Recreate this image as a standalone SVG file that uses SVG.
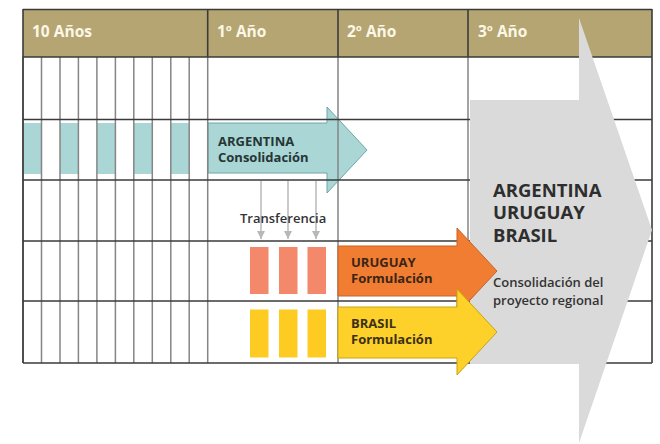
<svg xmlns="http://www.w3.org/2000/svg" width="660" height="444" viewBox="0 0 660 444">
<defs>
<style>
.hdr{fill:#b4a572}
.htxt{font-family:"Open Sans","Noto Sans",sans-serif;font-weight:700;font-size:15.5px;fill:#fcf7e6}
.vl{stroke:#858585;stroke-width:1.5;fill:none}
.hl{stroke:#3a3a3a;stroke-width:1.6;fill:none}
.dk{stroke:#3a3a3a;stroke-width:1.6;fill:none}
.teal{fill:#aad6d6}
.lbl{font-family:"Open Sans","Noto Sans",sans-serif;font-weight:700;font-size:13px}
.sm{font-family:"Open Sans","Noto Sans",sans-serif;font-weight:600;font-size:13px;fill:#333}
.big{font-family:"Open Sans","Noto Sans",sans-serif;font-weight:700;font-size:18.5px;fill:#2e2e2e}
.tr{stroke:#b8b8b8;stroke-width:1.5;fill:none}
</style>
<marker id="ah" viewBox="0 0 10 10" refX="10" refY="5" markerWidth="8" markerHeight="9" markerUnits="userSpaceOnUse" orient="auto">
<path d="M0,0 L10,5 L0,10 Z" fill="#b8b8b8"/>
</marker>
</defs>
<rect width="660" height="444" fill="#ffffff"/>

<g id="header">
<rect class="hdr" x="23" y="9" width="629" height="48"/>
<line class="dk" x1="23" y1="9.5" x2="652" y2="9.5" stroke-width="2"/>
<text class="htxt" x="32" y="37">10 Años</text>
<text class="htxt" x="217" y="37">1º Año</text>
<text class="htxt" x="347" y="37">2º Año</text>
<text class="htxt" x="478" y="37">3º Año</text>
</g>

<g id="argentina-past">
<rect class="teal" x="23" y="123" width="18.5" height="51"/>
<rect class="teal" x="60" y="123" width="18.4" height="51"/>
<rect class="teal" x="96.9" y="123" width="18.5" height="51"/>
<rect class="teal" x="133.8" y="123" width="18.5" height="51"/>
<rect class="teal" x="170.8" y="123" width="18.4" height="51"/>
</g>

<g id="argentina">
<path d="M208,123 H327 V107 L367,150 L327,193 V173 H208 Z" fill="#aad6d6" stroke="#6fa6a6" stroke-width="1"/>
</g>

<g id="grid">
<g class="vl">
<line x1="23" y1="57" x2="23" y2="363"/>
<line x1="41.5" y1="57" x2="41.5" y2="363"/>
<line x1="60" y1="57" x2="60" y2="363"/>
<line x1="78.4" y1="57" x2="78.4" y2="363"/>
<line x1="96.9" y1="57" x2="96.9" y2="363"/>
<line x1="115.4" y1="57" x2="115.4" y2="363"/>
<line x1="133.8" y1="57" x2="133.8" y2="363"/>
<line x1="152.3" y1="57" x2="152.3" y2="363"/>
<line x1="170.8" y1="57" x2="170.8" y2="363"/>
<line x1="189.2" y1="57" x2="189.2" y2="363"/>
<line x1="207.7" y1="57" x2="207.7" y2="363"/>
<line x1="338" y1="57" x2="338" y2="363"/>
<line x1="468" y1="57" x2="468" y2="363"/>
</g>
<g class="dk">
<line x1="23" y1="9" x2="23" y2="363"/>
<line x1="652" y1="9" x2="652" y2="363"/>
<line x1="207.7" y1="9" x2="207.7" y2="57"/>
<line x1="338" y1="9" x2="338" y2="57"/>
<line x1="468" y1="9" x2="468" y2="57"/>
</g>
<g class="hl">
<line x1="23" y1="57" x2="652" y2="57"/>
<line x1="23" y1="119.5" x2="652" y2="119.5"/>
<line x1="23" y1="180" x2="652" y2="180"/>
<line x1="23" y1="241" x2="652" y2="241"/>
<line x1="23" y1="301" x2="652" y2="301"/>
<line x1="23" y1="363" x2="652" y2="363"/>
</g>
</g>

<g id="argentina-label">
<text class="lbl" fill="#263535" x="218" y="145.5">ARGENTINA</text>
<text class="lbl" fill="#263535" x="218" y="161.5">Consolidación</text>
</g>

<g id="regional">
<path d="M470,100 H579 V18 L652,230 L579,443 V364 H470 Z" fill="#dadada"/>
<text class="big" x="493" y="196.5">ARGENTINA</text>
<text class="big" x="493" y="219">URUGUAY</text>
<text class="big" x="493" y="241.5">BRASIL</text>
<text class="sm" x="493" y="287" fill="#2e2e2e">Consolidación del</text>
<text class="sm" x="493" y="305" fill="#2e2e2e">proyecto regional</text>
</g>

<g id="connectors">
<line class="tr" x1="261" y1="181" x2="261" y2="239" marker-end="url(#ah)"/>
<line class="tr" x1="288" y1="181" x2="288" y2="239" marker-end="url(#ah)"/>
<line class="tr" x1="316" y1="181" x2="316" y2="239" marker-end="url(#ah)"/>
</g>

<g id="transferencia">
<text class="sm" x="240" y="222.5">Transferencia</text>
</g>

<g id="uruguay-cells">
<rect x="250" y="247" width="18.5" height="47" fill="#f3886a"/>
<rect x="279" y="247" width="18.5" height="47" fill="#f3886a"/>
<rect x="307.5" y="247" width="18.5" height="47" fill="#f3886a"/>
</g>

<g id="brasil-cells">
<rect x="250" y="309.5" width="18.5" height="48" fill="#fdcb22"/>
<rect x="279" y="309.5" width="18.5" height="48" fill="#fdcb22"/>
<rect x="307.5" y="309.5" width="18.5" height="48" fill="#fdcb22"/>
</g>

<g id="uruguay">
<path d="M338,246 H457 V228 L497,271 L457,314 V296 H338 Z" fill="#f07d32" stroke="#c9622a" stroke-width="1"/>
<text class="lbl" fill="#3b2516" x="351" y="266.5">URUGUAY</text>
<text class="lbl" fill="#3b2516" x="351" y="282.5">Formulación</text>
</g>

<g id="brasil">
<path d="M338,307 H457 V289 L497,332 L457,375 V358 H338 Z" fill="#fdd12a" stroke="#c9a412" stroke-width="1"/>
<text class="lbl" fill="#3b3016" x="351" y="327.5">BRASIL</text>
<text class="lbl" fill="#3b3016" x="351" y="343.5">Formulación</text>
</g>
</svg>
